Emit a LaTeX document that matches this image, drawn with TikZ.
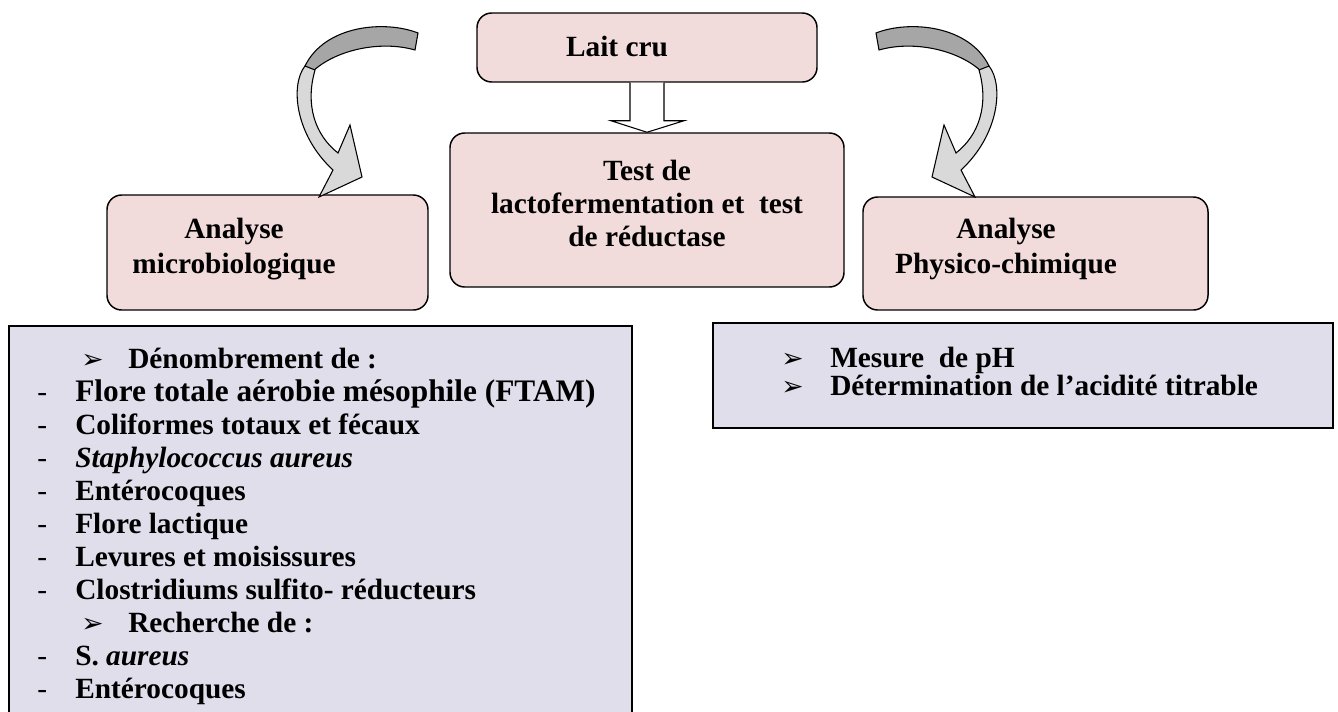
\documentclass[tikz,border=0pt]{standalone}
\usepackage{fontspec}
\setmainfont{Liberation Serif}
\newfontfamily\symb{DejaVu Sans}
\usetikzlibrary{calc}
\definecolor{rose}{HTML}{F2DCDB}
\definecolor{lavande}{HTML}{E1DEEB}
\definecolor{grisfonce}{HTML}{A6A6A6}
\definecolor{grisclair}{HTML}{D9D9D9}
\tikzset{
	boite/.style={draw, fill=rose, rounded corners=11pt, line width=1.1pt},
	liste/.style={draw, fill=lavande, line width=1.6pt},
	texte/.style={font=\bfseries\fontsize{22}{26.25}\selectfont, align=center},
	ligne/.style={font=\bfseries\fontsize{22}{26}\selectfont, anchor=base west, inner sep=0pt},
}
\newcommand\puce{{\symb\mdseries\fontsize{20}{20}\selectfont ➢}}
\newcommand\tiret[1]{\hspace*{21pt}\makebox[28.5pt][l]{\mdseries -}#1}
\newcommand\fleche[1]{\hspace*{54pt}\makebox[35.25pt][l]{\puce}#1}
\newcommand\espece[1]{\textit{#1}}
\newcommand\ruban{%
	\draw[fill=grisfonce, line width=0.8pt] (418,33) .. controls (385,20) and (325,25) .. (305,66)
		-- (312,72) .. controls (335,50) and (380,40) .. (415,50) -- cycle;
	\draw[fill=grisclair, line width=0.8pt] (305,66) .. controls (290,85) and (295,135) .. (333,170)
		-- (319,197) -- (362,177) -- (350,125) -- (338,153)
		.. controls (315,135) and (305,105) .. (315,70) -- cycle;
}
\begin{document}
\begin{tikzpicture}[x=0.75pt, y=-0.75pt]
	\useasboundingbox (0,0) rectangle (1338,711);
	\node[liste, minimum width=467.25pt, minimum height=299.25pt] (microliste) at (320.5,525.5) {};
	\node[liste, minimum width=465pt, minimum height=78.75pt] (physliste) at (1023,375.5) {};
	\node[boite, minimum width=255pt, minimum height=51.75pt] (lait) at (647,47.5) {};
	\node[boite, minimum width=295.5pt, minimum height=115.5pt] (test) at (647,210) {};
	\node[boite, minimum width=240.75pt, minimum height=86.25pt] (micro) at (267.5,252.5) {};
	\node[boite, minimum width=258.75pt, minimum height=84.75pt] (physico) at (1035.5,253.5) {};
	\node[texte] (lait-t) at (617,46) {Lait cru};
	\node[texte, font=\bfseries\fontsize{22}{24.75}\selectfont] (test-t) at (647,203) {Test de\\lactofermentation et\ \ test\\de réductase};
	\node[texte] (micro-t) at (234,249) {Analyse\\microbiologique};
	\node[texte] (physico-t) at (1006,249) {Analyse\\Physico-chimique};
	\foreach \txt [count=\i] in {\fleche{Dénombrement de :},
		\tiret{{\fontsize{23.5}{26}\selectfont Flore totale aérobie mésophile (FTAM)}},
		\tiret{Coliformes totaux et fécaux}, \tiret{\espece{Staphylococcus aureus}},
		\tiret{Entérocoques}, \tiret{Flore lactique}, \tiret{Levures et moisissures},
		\tiret{Clostridiums sulfito- réducteurs}, \fleche{Recherche de :},
		\tiret{S. \espece{aureus}}, \tiret{Entérocoques}}
		\node[ligne] (ml\i) at (9,335+33*\i) {\txt};
	\node[ligne] (pl1) at (781,367) {\makebox[36.75pt][l]{\puce}Mesure\ \ de pH};
	\node[ligne] (pl2) at (781,395) {\makebox[36.75pt][l]{\puce}Détermination de l’acidité titrable};
	\draw[fill=white, line width=0.8pt] ($(lait.south)+(-17,0)$) -- ++(0,38) -- ++(-19,0) -- (test.north)
		-- ($(lait.south)+(37,38)$) -- ++(-20,0) -- ($(lait.south)+(17,0)$);
	\ruban
	\begin{scope}[shift={(1294,0)}, xscale=-1]
		\ruban
	\end{scope}
\end{tikzpicture}
\end{document}
